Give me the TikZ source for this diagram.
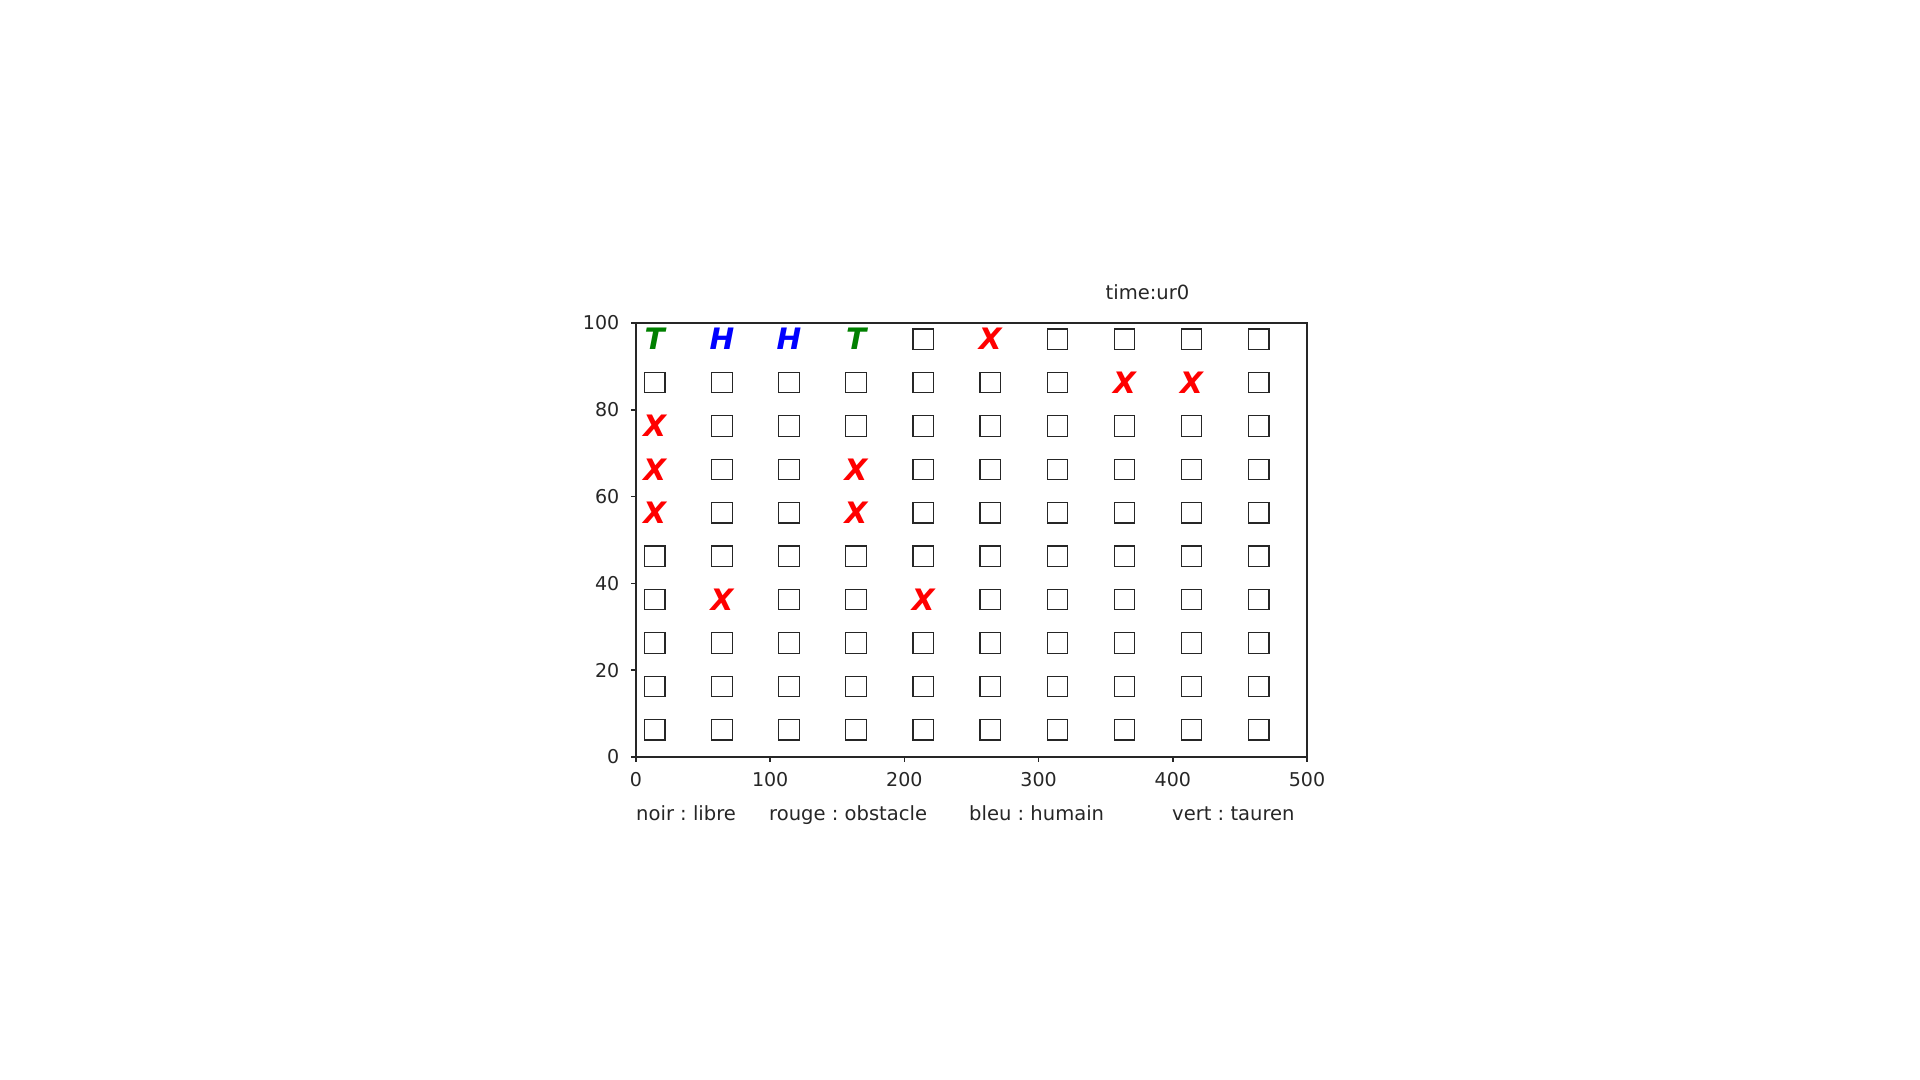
\documentclass[tikz,border=0pt]{standalone}
\usepackage{fontspec}
\setmainfont{DejaVu Sans}
\definecolor{mplgreen}{RGB}{0,128,0}
\definecolor{mplblue}{RGB}{0,0,255}
\definecolor{mplred}{RGB}{255,0,0}
\definecolor{boxgray}{RGB}{38,38,38}
\frenchspacing
\begin{document}
\begin{tikzpicture}[x=0.01cm,y=-0.01cm,
  cellbox/.style={draw=boxgray, line width=0.34pt, minimum size=0.205cm, inner sep=0pt},
  letter/.style={inner sep=0pt, font=\fontsize{8.39pt}{8.39pt}\selectfont\bfseries\itshape},
  lbl/.style={inner sep=0pt, font=\fontsize{5.41pt}{6pt}\selectfont, text=black!85},
  txt/.style={inner sep=0pt, font=\fontsize{5.56pt}{6pt}\selectfont, text=black!85},
  axisline/.style={draw=black!85, line width=0.45pt}
]
\useasboundingbox (0,0) rectangle (1920,1080);
% axes frame
\draw[axisline] (636,323) rectangle (1307,757);
% y ticks
\foreach \v [count=\k from 0] in {0,20,40,60,80,100} {
  \coordinate (yt\k) at (636,757-4.34*\v);
  \draw[axisline] (yt\k) -- ++(-5,0);
  \node[lbl, anchor=east] (ytl\k) at (620,757-4.34*\v) {\v};
}
% x ticks
\foreach \v [count=\k from 0] in {0,100,200,300,400,500} {
  \coordinate (xt\k) at (636+1.342*\v,757);
  \draw[axisline] (xt\k) -- ++(0,5);
  \node[lbl, anchor=north] (xtl\k) at (636+1.342*\v,771.7) {\v};
}
% empty cells
\foreach \r/\cols in {0/{4,6,7,8,9}, 1/{0,1,2,3,4,5,6,9}, 2/{1,2,3,4,5,6,7,8,9},
  3/{1,2,4,5,6,7,8,9}, 4/{1,2,4,5,6,7,8,9}, 5/{0,1,2,3,4,5,6,7,8,9},
  6/{0,2,3,5,6,7,8,9}, 7/{0,1,2,3,4,5,6,7,8,9}, 8/{0,1,2,3,4,5,6,7,8,9},
  9/{0,1,2,3,4,5,6,7,8,9}} {
  \foreach \c in \cols {
    \node[cellbox] (c-\r-\c) at (654.8+67.1*\c,339.2+43.4*\r) {};
  }
}
% occupied cells
\foreach \r/\c/\col/\t in {0/0/mplgreen/T, 0/1/mplblue/H, 0/2/mplblue/H, 0/3/mplgreen/T,
  0/5/mplred/X, 1/7/mplred/X, 1/8/mplred/X, 2/0/mplred/X, 3/0/mplred/X, 3/3/mplred/X,
  4/0/mplred/X, 4/3/mplred/X, 6/1/mplred/X, 6/4/mplred/X} {
  \node[letter, text=\col] (c-\r-\c) at (654.8+67.1*\c,339.2+43.4*\r) {\t};
}
% title
\node[txt, anchor=base] (title) at (1147.5,300) {time:ur0};
% legend
\node[txt, anchor=base west] (leg1) at (635.5,821) {noir : libre};
\node[txt, anchor=base west] (leg2) at (768.5,821) {rouge : obstacle};
\node[txt, anchor=base west] (leg3) at (968.5,821) {bleu : humain};
\node[txt, anchor=base west] (leg4) at (1171.5,821) {vert : tauren};
\end{tikzpicture}
\end{document}
